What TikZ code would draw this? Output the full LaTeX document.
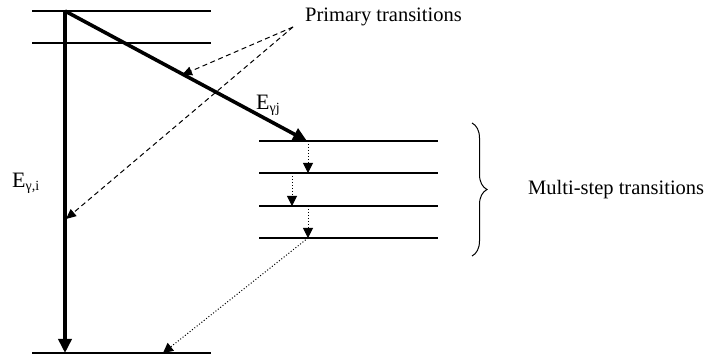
\documentclass[tikz,border=0pt]{standalone}
\usepackage{fontspec}
\setmainfont{Liberation Serif}
\usetikzlibrary{arrows.meta,decorations.pathreplacing}
\newcommand{\Esub}[1]{{\fontsize{22}{24}\selectfont E}\raisebox{-3pt}{\fontsize{14}{16}\selectfont #1}}
\begin{document}
\begin{tikzpicture}[x=1pt,y=-1pt,
  level/.style={line width=1.3pt},
  gamma/.style={line width=3.6pt,-{Triangle[length=14pt,width=13pt]}},
  cascade/.style={line width=1pt,dotted,-{Triangle[length=10pt,width=10pt]}},
  pointer/.style={line width=1pt,dash pattern=on 5pt off 3.5pt,-{Triangle[length=10pt,width=9pt]}},
  lbl/.style={font=\fontsize{20.5}{22}\selectfont,inner sep=0pt}]
  \useasboundingbox (0,0) rectangle (705,358);
  % levels on the left
  \draw[level] (32,11) -- (211,11);
  \draw[level] (32,43) -- (211,43);
  \draw[level] (32,353) -- (211,353);
  % levels on the right
  \foreach \y in {141,173,206,238}
    \draw[level] (259,\y) -- (438,\y);
  \coordinate (start) at (65,11);
  \coordinate (ground) at (65,353);
  \coordinate (inter) at (307,141);
  % primary transitions
  \draw[gamma] (start) -- (ground);
  \draw[gamma] (start) -- (inter);
  % multi-step cascade
  \coordinate (c1) at (308,173);
  \coordinate (c2a) at (292,173);
  \coordinate (c2) at (292,206);
  \coordinate (c3a) at (308,206);
  \coordinate (c3) at (308,238);
  \coordinate (gnd2) at (163,353);
  \draw[cascade] (308,141) -- (c1);
  \draw[cascade] (c2a) -- (c2);
  \draw[cascade] (c3a) -- (c3);
  \draw[cascade] (c3) -- (gnd2);
  % labels
  \node[lbl,anchor=base west] (primary) at (305,22) {Primary transitions};
  \coordinate (ptr) at (293,27);
  \coordinate (hitj) at (182,75);
  \coordinate (hiti) at (66,219);
  \draw[pointer] (ptr) -- (hitj);
  \draw[pointer] (ptr) -- (hiti);
  \node[lbl,anchor=base west] (egi) at (12,188) {\Esub{γ,i}};
  \node[lbl,anchor=base west] (egj) at (256,110) {\Esub{γj}};
  % brace
  \draw[line width=1pt,decorate,decoration={brace,amplitude=15pt}]
    (472,123) -- (472,256);
  \node[lbl,anchor=base west] (multi) at (528,195) {Multi-step transitions};
\end{tikzpicture}
\end{document}
